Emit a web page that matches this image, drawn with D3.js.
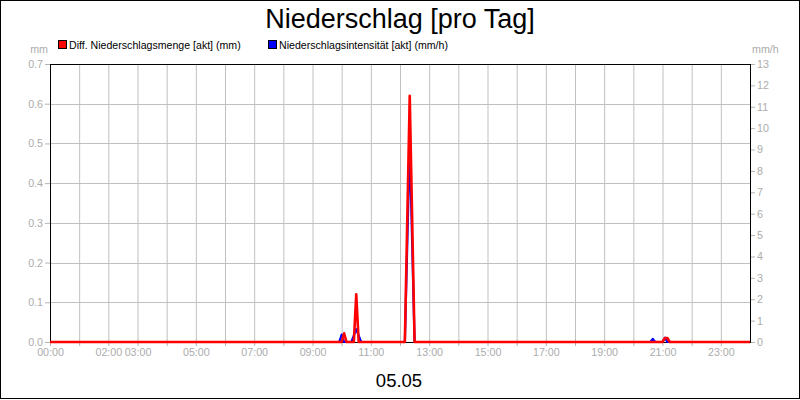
<!DOCTYPE html>
<html>
<head>
<meta charset="utf-8">
<script src="https://cdn.jsdelivr.net/npm/d3@7"></script>
<style>
  body { margin: 0; background: #fff; }
  svg text { font-family: "Liberation Sans", Arial, sans-serif; }
  .axis path { display: none; }
  .axis line { stroke: #b4b4b4; }
  .axis text { fill: #acacac; font-size: 10.7px; }
</style>
</head>
<body>
<div id="chart"></div>
<script>
// chart data (rain readings of 05.05)
var amountTimes = ["00:00", "10:00", "10:05", "10:10", "10:25", "10:30", "10:35",
  "12:10", "12:20", "12:30", "21:00", "21:05", "21:10", "21:15", "24:00"];
var amountValues = [0, 0, 0.022, 0, 0, 0.12, 0, 0, 0.62, 0, 0, 0.01, 0.01, 0, 0];

var intensityTimes = ["00:00", "09:55", "10:00", "10:05", "10:20", "10:30", "10:40",
  "12:10", "12:20", "12:30", "20:35", "20:40", "20:45", "21:00", "21:05", "21:10", "24:00"];
var intensityValues = [0, 0, 0.35, 0, 0, 0.6, 0, 0, 9.2, 0, 0, 0.15, 0, 0, 0.2, 0, 0];

var xTickLabels = ["00:00", "02:00", "03:00", "05:00", "07:00", "09:00", "11:00",
  "13:00", "15:00", "17:00", "19:00", "21:00", "23:00"];
var leftTicks = [0, 0.1, 0.2, 0.3, 0.4, 0.5, 0.6, 0.7];
var rightTicks = [0, 1, 2, 3, 4, 5, 6, 7, 8, 9, 10, 11, 12, 13];

var seriesNames = ["Diff. Niederschlagsmenge [akt] (mm)", "Niederschlagsintensität [akt] (mm/h)"];
var seriesColors = ["#ff0000", "#0000ff"];

var svgWidth = 800;
var svgHeight = 400;

var margin = {
  top: 64,
  right: 50,
  bottom: 58,
  left: 50
};

var width = svgWidth - margin.left - margin.right;
var height = svgHeight - margin.top - margin.bottom;

var svg = d3.select("#chart")
  .append("svg")
  .attr("width", svgWidth)
  .attr("height", svgHeight);

// outer frame
svg.append("rect")
  .attr("x", 0.5)
  .attr("y", 0.5)
  .attr("width", svgWidth - 1)
  .attr("height", svgHeight - 2)
  .attr("fill", "none")
  .attr("stroke", "#000");

var chartGroup = svg.append("g")
  .attr("transform", `translate(${margin.left}, ${margin.top})`);

function toHours(t) {
  var p = t.split(":");
  return +p[0] + (+p[1]) / 60;
}

// scales
var xScale = d3.scaleLinear()
  .domain([0, 24])
  .range([0, width]);

var yLeft = d3.scaleLinear()
  .domain([0, 0.7])
  .range([height, 0]);

var yRight = d3.scaleLinear()
  .domain([0, 13])
  .range([height, 0]);

var hours = d3.range(0, 25);

// grid
chartGroup.append("g")
  .selectAll("line")
  .data(hours.slice(1, 24))
  .enter()
  .append("line")
  .attr("x1", d => xScale(d) + 0.5)
  .attr("x2", d => xScale(d) + 0.5)
  .attr("y1", 0)
  .attr("y2", height)
  .attr("stroke", "#c0c0c0");

chartGroup.append("g")
  .selectAll("line")
  .data(leftTicks.slice(1, 7))
  .enter()
  .append("line")
  .attr("x1", 0)
  .attr("x2", width)
  .attr("y1", d => Math.round(yLeft(d)) + 0.5)
  .attr("y2", d => Math.round(yLeft(d)) + 0.5)
  .attr("stroke", "#c0c0c0");

// axes
var bottomAxis = d3.axisBottom(xScale)
  .tickValues(hours.slice(0, 24))
  .tickSize(4)
  .tickPadding(2)
  .tickFormat(function (d) {
    var label = d3.format("02")(d) + ":00";
    return xTickLabels.indexOf(label) >= 0 ? label : "";
  });

var leftAxis = d3.axisLeft(yLeft)
  .tickValues(leftTicks)
  .tickSize(5)
  .tickPadding(2)
  .tickFormat(d3.format(".1f"));

var rightAxis = d3.axisRight(yRight)
  .tickValues(rightTicks)
  .tickSize(5)
  .tickPadding(2);

chartGroup.append("g")
  .attr("class", "axis")
  .attr("transform", `translate(0, ${height})`)
  .call(bottomAxis);

chartGroup.append("g")
  .attr("class", "axis")
  .call(leftAxis);

chartGroup.append("g")
  .attr("class", "axis")
  .attr("transform", `translate(${width}, 0)`)
  .call(rightAxis);

// plot frame
chartGroup.append("rect")
  .attr("x", 0.5)
  .attr("y", 0.5)
  .attr("width", width)
  .attr("height", height)
  .attr("fill", "none")
  .attr("stroke", "#000");

// lines
var amountPoints = amountTimes.map(function (t, i) {
  return { hour: toHours(t), value: amountValues[i] };
});
var intensityPoints = intensityTimes.map(function (t, i) {
  return { hour: toHours(t), value: intensityValues[i] };
});

var intensityLine = d3.line()
  .x(d => xScale(d.hour))
  .y(d => yRight(d.value));

var amountLine = d3.line()
  .x(d => xScale(d.hour))
  .y(d => yLeft(d.value));

chartGroup.append("path")
  .datum(intensityPoints)
  .attr("d", intensityLine)
  .attr("fill", "none")
  .attr("stroke", seriesColors[1])
  .attr("stroke-width", 2.2)
  .attr("stroke-linejoin", "round");

chartGroup.append("path")
  .datum(amountPoints)
  .attr("d", amountLine)
  .attr("fill", "none")
  .attr("stroke", seriesColors[0])
  .attr("stroke-width", 2.6)
  .attr("stroke-linejoin", "round");

// title
svg.append("text")
  .attr("x", 400)
  .attr("y", 28)
  .attr("text-anchor", "middle")
  .style("font-size", "27px")
  .text("Niederschlag [pro Tag]");

// legend
var legendX = [58, 268];
seriesNames.forEach(function (name, i) {
  svg.append("rect")
    .attr("x", legendX[i] + 0.5)
    .attr("y", 40.5)
    .attr("width", 8)
    .attr("height", 8)
    .attr("fill", seriesColors[i])
    .attr("stroke", "#000");
  svg.append("text")
    .attr("x", legendX[i] + 11)
    .attr("y", 48.5)
    .style("font-size", "10.6px")
    .text(name);
});

// unit labels
svg.append("text")
  .attr("x", 48)
  .attr("y", 53)
  .attr("text-anchor", "end")
  .attr("fill", "#acacac")
  .style("font-size", "10.7px")
  .text("mm");

svg.append("text")
  .attr("x", 752)
  .attr("y", 53)
  .attr("fill", "#acacac")
  .style("font-size", "10.7px")
  .text("mm/h");

// date label
svg.append("text")
  .attr("x", 399)
  .attr("y", 387)
  .attr("text-anchor", "middle")
  .style("font-size", "18.5px")
  .text("05.05");
</script>
</body>
</html>
